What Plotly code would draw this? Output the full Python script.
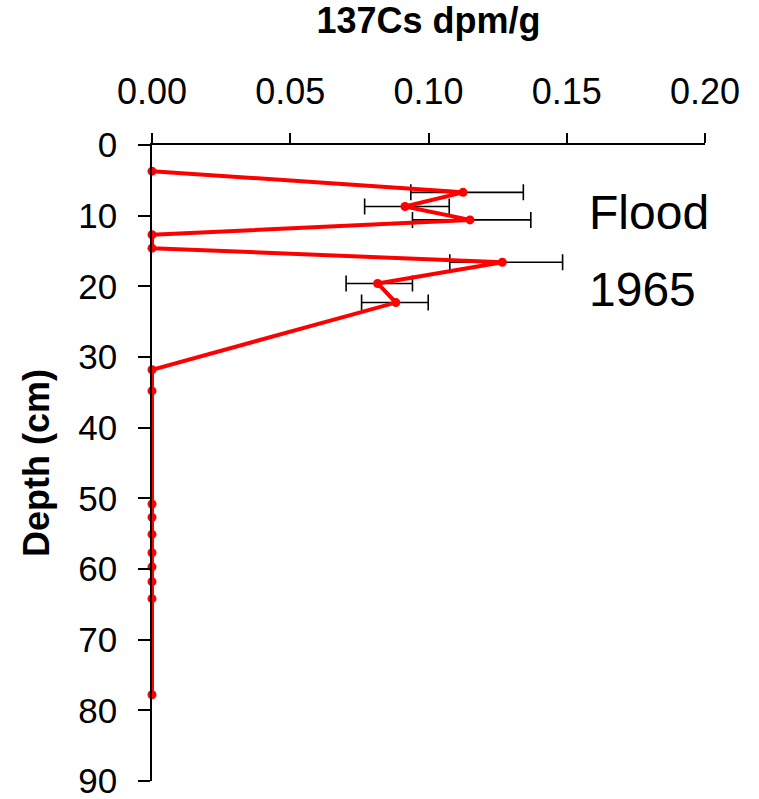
import plotly.graph_objects as go

depth_cm = [3.7, 6.7, 8.7, 10.6, 12.7, 14.6, 16.6, 19.6, 22.3, 31.8, 34.8,
            50.8, 52.7, 55.1, 57.7, 59.7, 61.8, 64.2, 77.8]
cs137 = [0.0, 0.1125, 0.0915, 0.115, 0.0, 0.0, 0.1267, 0.0816, 0.0882, 0.0, 0.0,
         0.0, 0.0, 0.0, 0.0, 0.0, 0.0, 0.0, 0.0]
err_plus = [0, 0.0218, 0.016, 0.022, 0, 0, 0.0218, 0.0126, 0.0117, 0, 0,
            0, 0, 0, 0, 0, 0, 0, 0]
err_minus = [0, 0.0189, 0.0146, 0.0208, 0, 0, 0.019, 0.0114, 0.0124, 0, 0,
             0, 0, 0, 0, 0, 0, 0, 0]
x_ticks = [0.0, 0.05, 0.10, 0.15, 0.20]
y_ticks = [0, 10, 20, 30, 40, 50, 60, 70, 80, 90]

FONT = "Liberation Sans, Arial, sans-serif"

fig = go.Figure()

# error bars (drawn beneath the red line)
eb_x, eb_y, eb_p, eb_m = [], [], [], []
for d, v, p, m in zip(depth_cm, cs137, err_plus, err_minus):
    if p > 0 or m > 0:
        eb_x.append(v); eb_y.append(d); eb_p.append(p); eb_m.append(m)

fig.add_trace(go.Scatter(
    x=eb_x, y=eb_y, mode="markers",
    marker=dict(size=1, opacity=0),
    error_x=dict(type="data", symmetric=False, array=eb_p, arrayminus=eb_m,
                 color="black", thickness=1.6, width=8),
    hoverinfo="skip", showlegend=False,
))

fig.add_trace(go.Scatter(
    x=cs137, y=depth_cm, mode="lines+markers",
    line=dict(color="#FF0000", width=4),
    marker=dict(color="#FF0000", size=9, symbol="circle"),
    cliponaxis=False, showlegend=False,
))

fig.add_annotation(x=0.1575, y=9.6, xref="x", yref="y", text="Flood",
                   showarrow=False, xanchor="left", yanchor="middle",
                   font=dict(family=FONT, size=48, color="black"))
fig.add_annotation(x=0.1575, y=20.4, xref="x", yref="y", text="1965",
                   showarrow=False, xanchor="left", yanchor="middle",
                   font=dict(family=FONT, size=48, color="black"))

fig.update_layout(
    width=759, height=799,
    margin=dict(l=152, r=54, t=145, b=18),
    paper_bgcolor="white", plot_bgcolor="white",
    font=dict(family=FONT, color="black"),
    xaxis=dict(
        side="top", range=[0, 0.2], tickvals=x_ticks, tickformat=".2f",
        automargin=False, ticklabeloverflow="allow",
        showline=True, linecolor="black", linewidth=1.6,
        ticks="outside", ticklen=10, tickwidth=1.6, tickcolor="black",
        showgrid=False, zeroline=False,
        tickfont=dict(family=FONT, size=36, color="black"),
        ticklabelstandoff=15,
        title=dict(text="<b>137Cs dpm/g</b>", standoff=28,
                   font=dict(family=FONT, size=36, color="black")),
    ),
    yaxis=dict(
        range=[90.01, 0], tickvals=y_ticks,
        automargin=False, ticklabeloverflow="allow",
        showline=True, linecolor="black", linewidth=1.6,
        ticks="outside", ticklen=12, tickwidth=1.6, tickcolor="black",
        showgrid=False, zeroline=False,
        tickfont=dict(family=FONT, size=35, color="black"),
        ticklabelstandoff=14,
        title=dict(text="<b>Depth (cm)</b>", standoff=18,
                   font=dict(family=FONT, size=36, color="black")),
    ),
)

fig.write_html("out.html", config={"displayModeBar": False},
               post_script="document.body.style.margin='0';document.body.style.overflow='hidden';")
